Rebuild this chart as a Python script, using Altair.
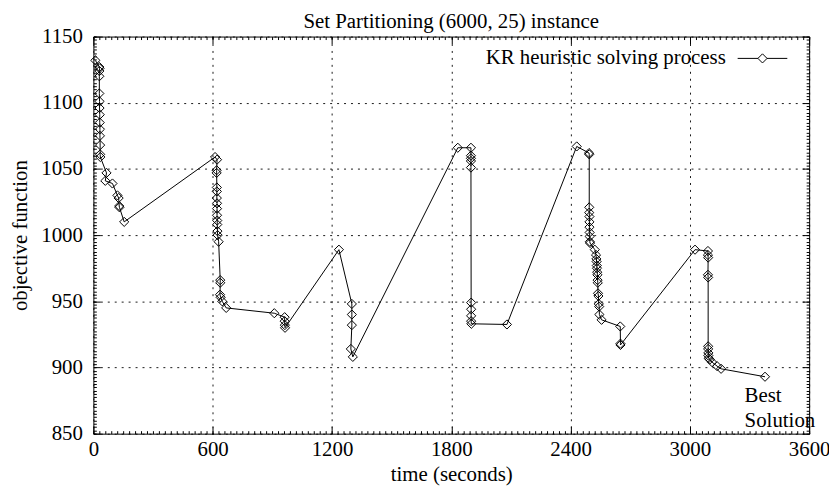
import altair as alt
import pandas as pd

# ---- data ----
time_s = [
    10, 30, 31, 30, 30, 30, 31, 31, 32, 32, 33, 33, 34, 34, 35, 66, 60, 96, 121, 127, 130, 131, 155,
    612, 622, 620, 620, 621, 621, 621, 622, 622, 622, 623, 623, 624, 625, 630, 638, 638, 637, 640, 648, 668,
    910, 962, 962, 963, 964,
    1235, 1300, 1300, 1300, 1295, 1305,
    1833, 1899, 1899, 1899, 1899, 1899, 1900, 1900, 1900, 1900, 1901,
    2080,
    2431, 2493, 2494, 2494, 2494, 2495, 2495, 2495, 2496, 2496, 2497, 2498,
    2522, 2528, 2530, 2531, 2532, 2533, 2534, 2535, 2536, 2537, 2538, 2540, 2542, 2544, 2545, 2556,
    2650, 2651, 2651,
    3026, 3091, 3091, 3092, 3091, 3092, 3092, 3092, 3093, 3093, 3095, 3100, 3112, 3137, 3157,
    3378,
]
objective = [
    1132, 1127, 1126, 1124, 1120, 1107, 1101, 1096, 1091, 1085, 1080, 1075, 1068, 1061, 1059, 1047, 1041, 1039, 1030, 1028, 1022, 1021, 1010,
    1059, 1057, 1049, 1047, 1036, 1033, 1028, 1024, 1020, 1015, 1011, 1008, 1003, 1000, 995, 966, 964, 955, 953, 950, 945,
    941, 938, 935, 932, 930,
    989, 948, 940, 932, 914, 908,
    1066, 1066, 1060, 1058, 1056, 1051, 949, 944, 939, 935, 933,
    932.5,
    1067, 1062, 1061, 1021, 1017, 1014, 1010, 1006, 1002, 999, 995, 994,
    989, 985, 982, 980, 977, 975, 972, 970, 966, 964, 956, 954, 948, 946, 940, 936,
    931, 918, 917,
    989, 988, 985, 983, 970, 968, 916, 914, 911, 909, 907, 906, 904, 901, 899,
    893,
]

x_major = [0, 600, 1200, 1800, 2400, 3000, 3600]
y_major = [850, 900, 950, 1000, 1050, 1100, 1150]
x_minor = list(range(0, 3601, 30))
y_minor = [850 + 2.5 * k for k in range(121)]

title_text = ["Set Partitioning (6000, 25) instance"]
x_title = "time (seconds)"
y_title = "objective function"
legend_label = ["KR heuristic solving process"]
note_line1 = ["Best"]
note_line2 = ["Solution"]

df = pd.DataFrame({"i": list(range(len(time_s))), "t": time_s, "v": objective})

FONT = "Liberation Serif"
FS = 21
PT = 85

xs = alt.Scale(domain=[0, 3600], nice=False, zero=False)
ys = alt.Scale(domain=[850, 1150], nice=False, zero=False)

x_main = alt.Axis(values=x_major, title=x_title, grid=True, gridDash=[2, 5], gridColor="#000000",
                  gridOpacity=0.9, ticks=False, tickSize=0, domain=False, labelPadding=5,
                  titlePadding=4, format="d", labelFlush=False, labelFont=FONT, titleFont=FONT,
                  labelFontSize=FS, titleFontSize=FS, labelColor="black", titleColor="black",
                  titleFontWeight="normal")
y_main = alt.Axis(values=y_major, title=y_title, grid=True, gridDash=[2, 5], gridColor="#000000",
                  gridOpacity=0.9, ticks=False, tickSize=0, domain=False, labelPadding=11,
                  titlePadding=10, format="d", labelFont=FONT, titleFont=FONT,
                  labelFontSize=FS, titleFontSize=FS, labelColor="black", titleColor="black",
                  titleFontWeight="normal")

base = alt.Chart(df)

series = base.mark_line(
    color="black", strokeWidth=1,
    point=alt.OverlayMarkDef(shape="diamond", filled=False, size=PT, color="black",
                             strokeWidth=1, opacity=1, fill="white", fillOpacity=0),
).encode(
    x=alt.X("t:Q", scale=xs, axis=x_main),
    y=alt.Y("v:Q", scale=ys, axis=y_main),
    order="i:Q",
)


def tick_layer(xorient, yorient, xvals, yvals, size):
    xa = alt.Axis(orient=xorient, values=xvals, labels=False, domain=False, grid=False, ticks=True,
                  tickSize=size, offset=-size, title="", tickColor="black", tickWidth=1)
    ya = alt.Axis(orient=yorient, values=yvals, labels=False, domain=False, grid=False, ticks=True,
                  tickSize=size, offset=-size, title="", tickColor="black", tickWidth=1)
    return base.mark_point(opacity=0).encode(
        x=alt.X("t:Q", scale=xs, axis=xa),
        y=alt.Y("v:Q", scale=ys, axis=ya),
    )


ticks_a = tick_layer("bottom", "left", x_major, y_major, 7)
ticks_b = tick_layer("top", "right", x_major, y_major, 7)
ticks_c = tick_layer("bottom", "left", x_minor, y_minor, 3)
ticks_d = tick_layer("top", "right", x_minor, y_minor, 3)

title_mark = alt.Chart(pd.DataFrame({"label": title_text})).mark_text(
    align="center", baseline="middle", font=FONT, fontSize=FS, color="black"
).encode(x=alt.value(360.5), y=alt.value(-15), text="label:N")

leg_df = pd.DataFrame({"label": legend_label})
leg_text = alt.Chart(leg_df).mark_text(
    align="right", baseline="middle", font=FONT, fontSize=FS, color="black"
).encode(x=alt.value(637), y=alt.value(22), text="label:N")
leg_line = alt.Chart(leg_df).mark_rule(color="black", strokeWidth=1).encode(
    x=alt.value(649), x2=alt.value(699), y=alt.value(22)
)
leg_pt = alt.Chart(leg_df).mark_point(
    shape="diamond", filled=True, fill="white", size=PT, stroke="black", strokeWidth=1, opacity=1
).encode(x=alt.value(674), y=alt.value(22))

note1 = alt.Chart(pd.DataFrame({"label": note_line1})).mark_text(
    align="left", baseline="middle", font=FONT, fontSize=FS, color="black"
).encode(x=alt.value(656), y=alt.value(362), text="label:N")
note2 = alt.Chart(pd.DataFrame({"label": note_line2})).mark_text(
    align="left", baseline="middle", font=FONT, fontSize=FS, color="black"
).encode(x=alt.value(656), y=alt.value(387), text="label:N")

chart = alt.layer(
    series, ticks_a, ticks_b, ticks_c, ticks_d, title_mark, leg_text, leg_line, leg_pt, note1, note2
).resolve_axis(x="independent", y="independent").properties(
    width=721,
    height=400,
    autosize=alt.AutoSizeParams(type="none"),
    padding={"left": 86, "top": 27, "right": 20, "bottom": 58},
    background="white",
).configure_view(
    stroke="black", strokeWidth=1
)

chart.save("out.html", embed_options={"renderer": "svg", "actions": False})
